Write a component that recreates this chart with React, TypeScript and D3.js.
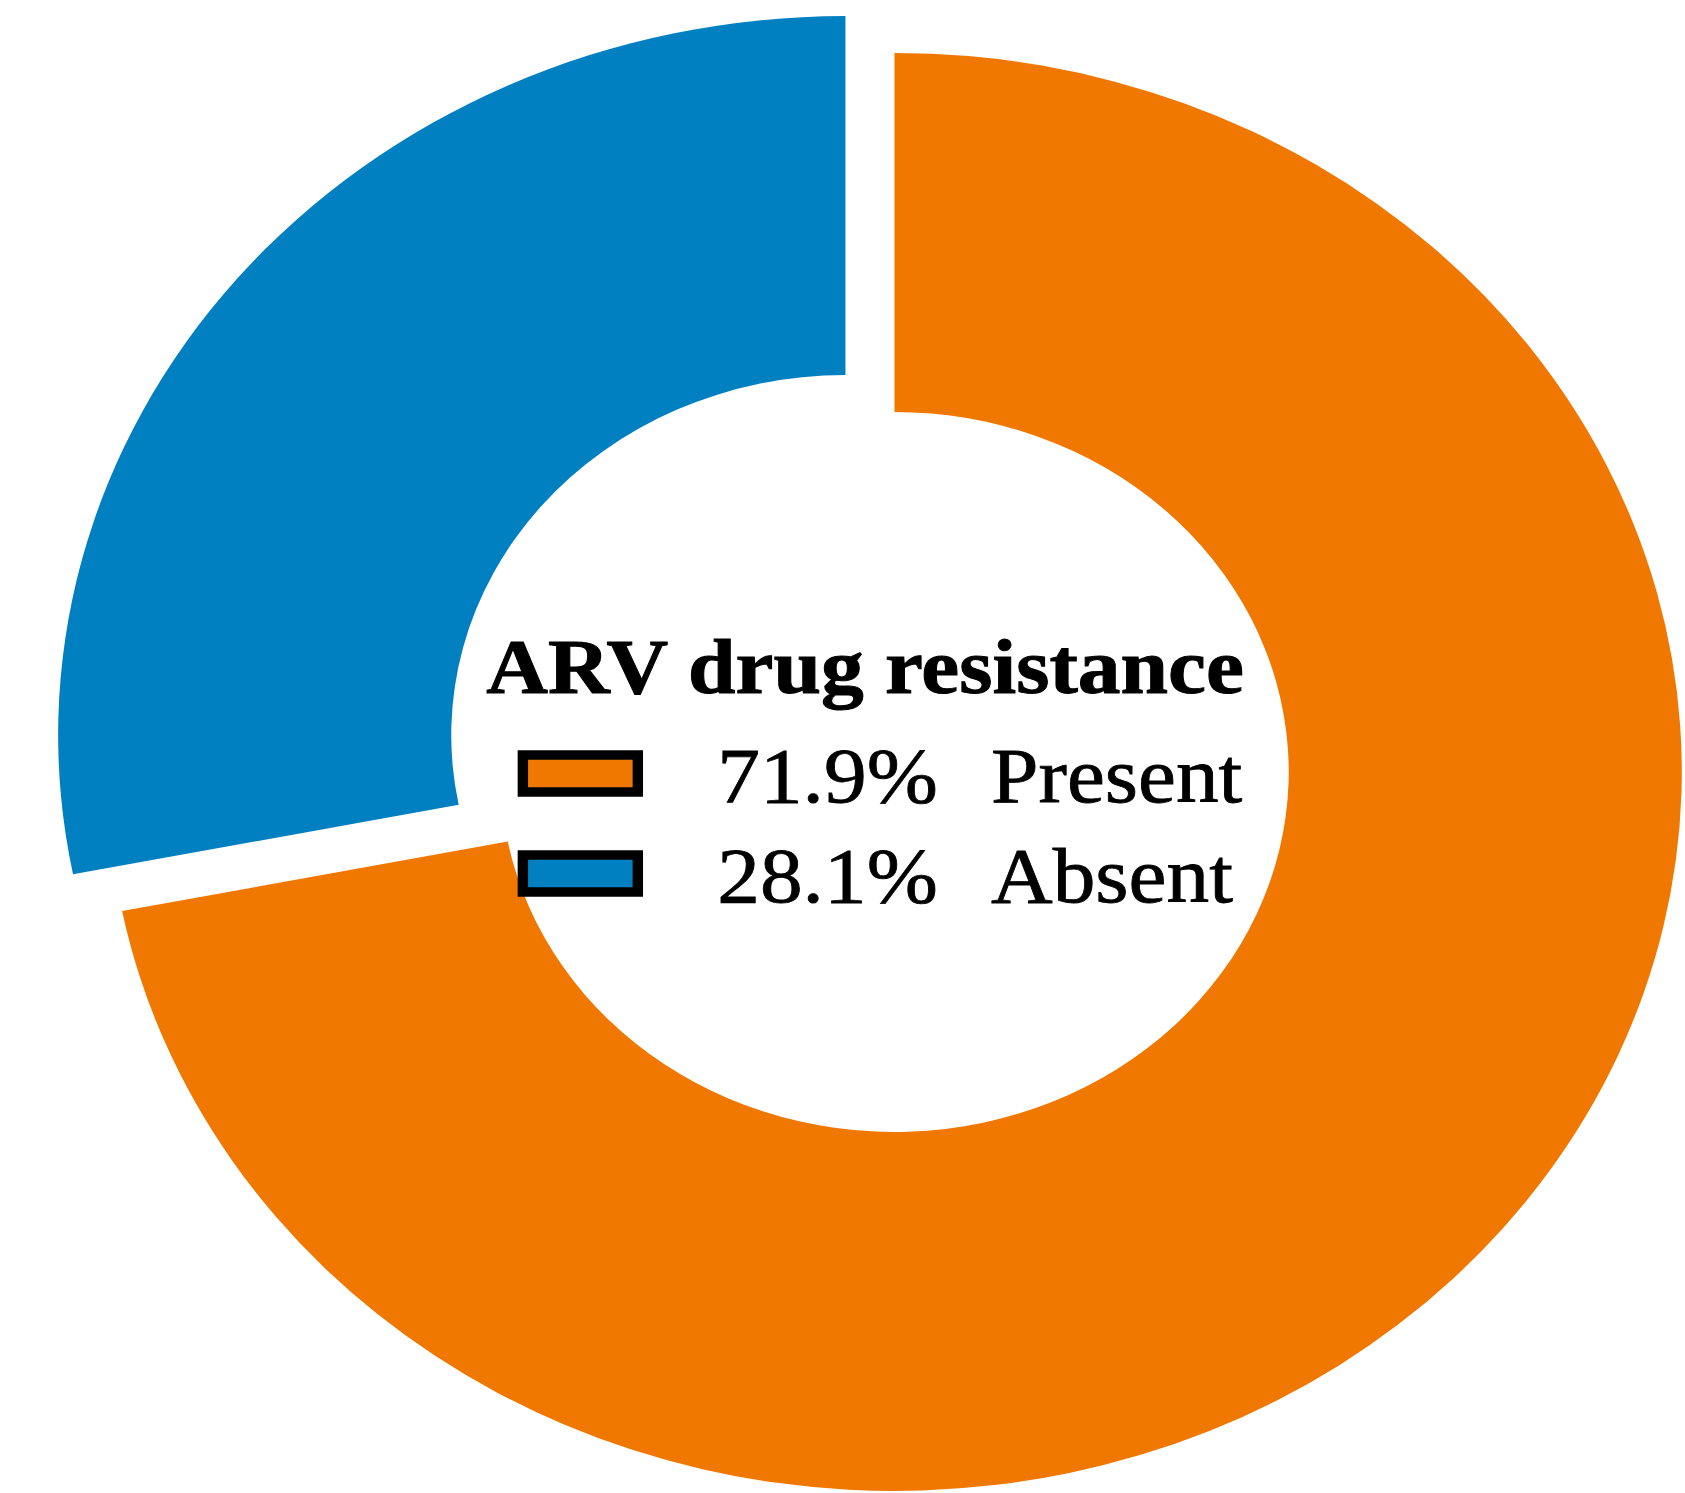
import React, { useEffect, useRef } from 'react'
import * as d3 from 'd3'

const categories = ['Present', 'Absent']
const values = [71.9, 28.1]
const colors = ['#f07800', '#0080c0']
const legendTitle = 'ARV drug resistance'

const W = 1685
const H = 1493
// the picture is a bit wider than tall, so the whole thing is stretched in x
const SX = 1.095
const CX = 794.5
const CY = 753.5
const OUTER = 719
const INNER = 360
const EXPLODE = 29

const App = () => {
  const ref = useRef<SVGSVGElement>(null)

  useEffect(() => {
    const svg = d3.select(ref.current)
    svg.selectAll('*').remove()

    const g = svg.append('g').attr('transform', `scale(${SX},1)`)

    const pie = d3.pie<number>().value(d => d).sort(null)
    const arc = d3.arc<d3.PieArcDatum<number>>().innerRadius(INNER).outerRadius(OUTER)

    g.selectAll('path')
      .data(pie(values))
      .enter()
      .append('path')
      .attr('d', arc)
      .attr('fill', (d, i) => colors[i])
      .attr('transform', d => {
        const a = (d.startAngle + d.endAngle) / 2
        const x = CX + Math.sin(a) * EXPLODE
        const y = CY - Math.cos(a) * EXPLODE
        return `translate(${x},${y})`
      })

    // legend in the hole
    const font = '"Liberation Serif", "Times New Roman", serif'
    g.append('text')
      .attr('x', 790)
      .attr('y', 693)
      .attr('text-anchor', 'middle')
      .attr('font-family', font)
      .attr('font-weight', 'bold')
      .attr('font-size', 78)
      .attr('fill', '#000')
      .attr('stroke', '#000')
      .attr('stroke-width', 1)
      .text(legendTitle)

    const rowY = d3.scalePoint<string>().domain(categories).range([802, 902])

    const rows = g.selectAll('g.row')
      .data(categories)
      .enter()
      .append('g')
      .attr('class', 'row')

    rows.append('rect')
      .attr('x', 477.5)
      .attr('y', d => (rowY(d) as number) - 47)
      .attr('width', 105)
      .attr('height', 37)
      .attr('fill', (d, i) => colors[i])
      .attr('stroke', '#000')
      .attr('stroke-width', 9.5)

    rows.append('text')
      .attr('x', 655)
      .attr('y', d => rowY(d) as number)
      .attr('font-family', font)
      .attr('font-size', 78)
      .attr('fill', '#000')
      .attr('stroke', '#000')
      .attr('stroke-width', 0.8)
      .text((d, i) => values[i].toFixed(1) + '%')

    rows.append('text')
      .attr('x', 905)
      .attr('y', d => rowY(d) as number)
      .attr('font-family', font)
      .attr('font-size', 78)
      .attr('fill', '#000')
      .attr('stroke', '#000')
      .attr('stroke-width', 0.8)
      .text(d => d)
  }, [])

  return (
    <svg
      ref={ref}
      width={W}
      height={H}
      style={{ position: 'absolute', left: 0, top: 0, background: '#fff' }}
    />
  )
}

export default App
